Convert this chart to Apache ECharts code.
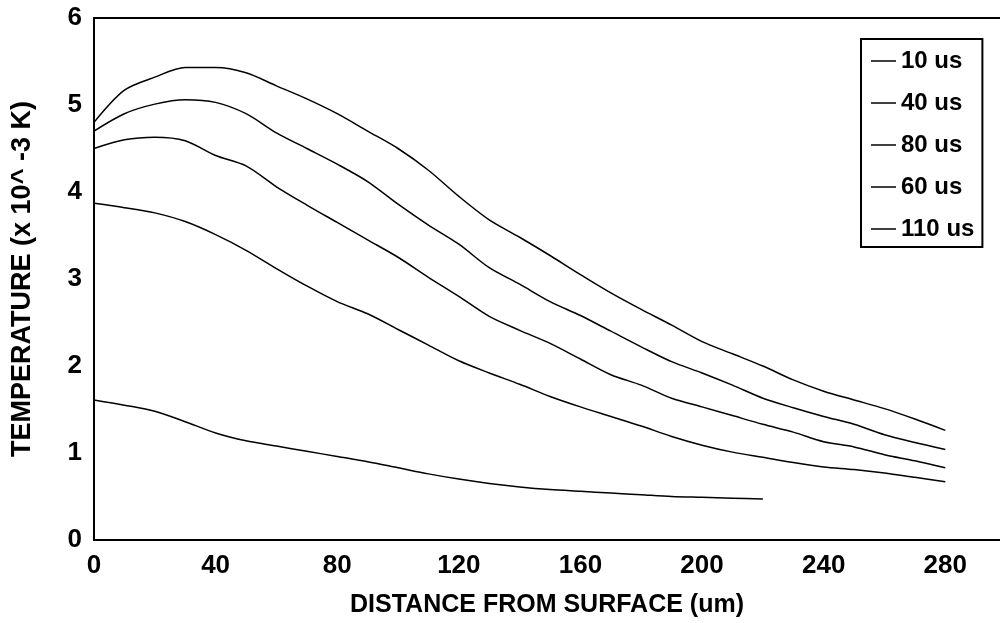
<!DOCTYPE html>
<html>
<head>
<meta charset="utf-8">
<script src="https://cdn.jsdelivr.net/npm/echarts@6/dist/echarts.min.js"></script>
<style>
  html, body { margin: 0; padding: 0; background: #fff; }
  #chart { width: 1000px; height: 623px; }
</style>
</head>
<body>
<div id="chart"></div>
<script>
// distance from surface (um)
const distance = [0, 10, 20, 30, 40, 50, 60, 70, 80, 90, 100, 110, 120, 130, 140, 150,
  160, 170, 180, 190, 200, 210, 220, 230, 240, 250, 260, 270, 280];

// temperature (x 10^-3 K)
const t10us = [1.61, 1.55, 1.48, 1.36, 1.23, 1.14, 1.08, 1.02, 0.96, 0.90, 0.83, 0.76, 0.70,
  0.65, 0.61, 0.58, 0.56, 0.54, 0.52, 0.50, 0.49, 0.48, 0.47];
const t40us = [3.87, 3.82, 3.76, 3.66, 3.51, 3.33, 3.12, 2.92, 2.74, 2.60, 2.42, 2.24, 2.06,
  1.92, 1.79, 1.65, 1.53, 1.42, 1.31, 1.19, 1.09, 1.01, 0.95, 0.89, 0.84, 0.81, 0.77, 0.72, 0.67];
const t80us = [4.50, 4.60, 4.63, 4.59, 4.42, 4.30, 4.06, 3.85, 3.65, 3.45, 3.25, 3.02, 2.80,
  2.57, 2.41, 2.26, 2.08, 1.90, 1.78, 1.63, 1.53, 1.43, 1.33, 1.24, 1.13, 1.07, 0.98, 0.91, 0.83];
const t60us = [4.70, 4.90, 5.01, 5.06, 5.03, 4.90, 4.68, 4.50, 4.32, 4.12, 3.86, 3.62, 3.40,
  3.13, 2.94, 2.74, 2.58, 2.40, 2.22, 2.05, 1.92, 1.78, 1.63, 1.52, 1.42, 1.33, 1.21, 1.12, 1.04];
const t110us = [4.80, 5.17, 5.32, 5.43, 5.43, 5.37, 5.22, 5.07, 4.90, 4.70, 4.50, 4.25, 3.95,
  3.68, 3.48, 3.27, 3.05, 2.84, 2.65, 2.47, 2.28, 2.14, 2.00, 1.84, 1.71, 1.61, 1.51, 1.39, 1.26];

const seriesNames = ['10 us', '40 us', '80 us', '60 us', '110 us'];
const seriesValues = [t10us, t40us, t80us, t60us, t110us];

const font = 'Liberation Sans, Arial, sans-serif';

let chart = echarts.init(document.getElementById('chart'));
let option = {
  animation: false,
  backgroundColor: '#fff',
  grid: { left: 94, top: 18, right: 0, bottom: 82 },
  legend: {
    orient: 'vertical',
    left: 861, top: 39,
    padding: [10, 8, 6, 10],
    itemGap: 18,
    borderColor: '#000', borderWidth: 2,
    icon: 'rect', itemWidth: 25, itemHeight: 1.5,
    itemStyle: { color: '#000' },
    textStyle: { color: '#000', fontSize: 24, fontWeight: 'bold', fontFamily: font },
    data: seriesNames
  },
  xAxis: [{
    type: 'value',
    min: 0, max: 298, interval: 40,
    name: 'DISTANCE FROM SURFACE (um)',
    nameLocation: 'middle', nameGap: 53,
    nameTextStyle: { color: '#000', fontSize: 25, fontWeight: 'bold', fontFamily: font },
    axisLine: { lineStyle: { color: '#000', width: 2 } },
    axisTick: { show: false },
    splitLine: { show: false },
    axisLabel: { color: '#000', fontSize: 26, fontWeight: 'bold', fontFamily: font, margin: 13, showMaxLabel: false }
  }, {
    // top frame line only
    type: 'value', position: 'top',
    min: 0, max: 298, interval: 40,
    axisLine: { lineStyle: { color: '#000', width: 2 } },
    axisTick: { show: false },
    axisLabel: { show: false },
    splitLine: { show: false }
  }],
  yAxis: {
    type: 'value',
    min: 0, max: 6, interval: 1,
    name: 'TEMPERATURE (x 10^ -3 K)',
    nameLocation: 'middle', nameGap: 58,
    nameTextStyle: { color: '#000', fontSize: 27, fontWeight: 'bold', fontFamily: font },
    axisLine: { show: true, lineStyle: { color: '#000', width: 2 } },
    axisTick: { show: false },
    splitLine: { show: false },
    axisLabel: { color: '#000', fontSize: 26, fontWeight: 'bold', fontFamily: font, margin: 12 }
  },
  series: seriesNames.map((name, i) => ({
    name: name,
    type: 'line',
    data: seriesValues[i].map((v, j) => [distance[j], v]),
    smooth: 0.3,
    showSymbol: false,
    color: '#000',
    lineStyle: { color: '#000', width: 1.5 }
  }))
};
chart.setOption(option);
</script>
</body>
</html>
